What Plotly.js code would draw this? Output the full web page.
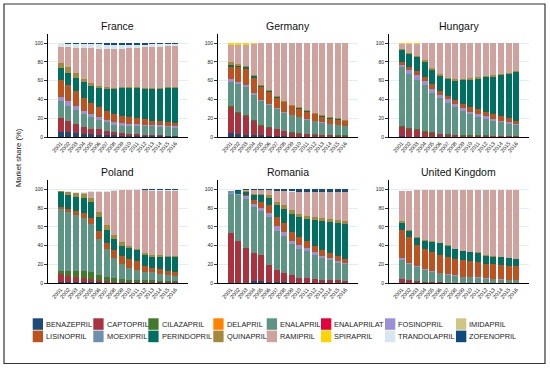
<!DOCTYPE html>
<html><head><meta charset="utf-8">
<script src="https://cdn.plot.ly/plotly-3.0.1.min.js"></script>
<style>html,body{margin:0;padding:0;background:#fff}#chart{width:550px;height:368px}</style>
</head><body><div id="chart"></div>
<script>
const years = ['2001','2002','2003','2004','2005','2006','2007','2008','2009','2010','2011','2012','2013','2014','2015','2016'];
const countries = ['France','Germany','Hungary','Poland','Romania','United Kingdom'];
const drugs = ['BENAZEPRIL','CAPTOPRIL','CILAZAPRIL','DELAPRIL','ENALAPRIL','ENALAPRILAT','FOSINOPRIL','IMIDAPRIL',
               'LISINOPRIL','MOEXIPRIL','PERINDOPRIL','QUINAPRIL','RAMIPRIL','SPIRAPRIL','TRANDOLAPRIL','ZOFENOPRIL'];
const drugColors = ['#1c4a76','#a8323e','#427a2c','#ff8200','#5e9484','#e4003a','#9a90d8','#d0c585',
                    '#bc5220','#6c90ad','#006e60','#a3893c','#cfa29e','#ffd400','#d6e7ef','#104a7c'];

// France (market share, %)
const frBenazepril   = [5,5,4,3,3,2.5,2,2,1.5,1.5,1.5,1,1,1,1,1];
const frCaptopril    = [15,12,10,8,6,5.5,4,3,3,2,1.5,1.5,1,1,0.5,0.5];
const frEnalapril    = [18,16,15,13,12,10,10,8,7.5,8.5,9,9.5,9.5,9,9,8.5];
const frFosinopril   = [5,5,4,4,3,3,2.5,2.5,2.5,2,1.5,1,1.5,1.5,1.5,1.5];
const frLisinopril   = [18,17,16,14,12,11,9.5,9.5,7.5,7,6.5,6,4.5,4.5,3.5,3.5];
const frPerindopril  = [12,13,14,16,18,20,23,26,30,31,32,32.5,34,34.5,36.5,37];
const frQuinapril    = [6,6,5,4,3,2,2,1.5,1,1,1,1,1,1,1,1];
const frRamipril     = [17,22,27,33,38,40,41,41.5,41,42,42,43,43.5,43.5,43.5,43.5];
const frTrandolapril = [4,3,4,4,4,4.5,4,4,4,3,3,2.5,2.5,2.5,2,2];
const frZofenopril   = [0,1,1,1,1,1.5,2,2,2,2,2,2,1.5,1.5,1.5,1.5];

// Germany
const deBenazepril   = [4,3,2.5,2,2,1.5,1,1,0.5,0.5,0.5,0.5,0.5,0.5,0.5,0.5];
const deCaptopril    = [28,23,19.5,15,10,8.5,7,5,4,3,2.5,2,1.5,1.5,1,1];
const deCilazapril   = [1,1,1,1,1,0.5,0.5,0.5,0.5,0.5,0.5,0.5,0.5,0.3,0.5,0.5];
const deEnalapril    = [26,29,30,27,25,23.5,21.5,19.5,18,17,15,13.5,12.5,11.2,10.5,9.5];
const deFosinopril   = [3,2,2,2,1,1,0.5,0.5,0.5,0.5,0.5,0.5,0.5,0.5,0.5,0.5];
const deLisinopril   = [13,16,17,16,14,13,11.5,10.5,9.5,8.5,8,7,6,5.5,5.5,4.5];
const dePerindopril  = [2,1.5,2,1.5,1,1,1,0.5,0.5,0.5,0.5,0.5,0.5,0.5,0.5,0.5];
const deQuinapril    = [3,2.5,2,1.5,1.5,1.5,1,1,1,1,1,1,1,1,1,1];
const deRamipril     = [18,20,22,32.5,44,49,55.5,61.5,65.5,68.5,71.5,74.5,77,79,80,82];
const deSpirapril    = [1.5,1.5,1.5,1.5,0.5,0.5,0.5,0,0,0,0,0,0,0,0,0];
const deTrandolapril = [0.5,0.5,0.5,0,0,0,0,0,0,0,0,0,0,0,0,0];

// Hungary
const huBenazepril   = [1,0.5,0.5,0.5,0.5,0.3,0.3,0.3,0.2,0.2,0.2,0.2,0.2,0.2,0.2,0.2];
const huCaptopril    = [9.5,8.5,6.5,4.5,3.5,2.7,2.2,1.7,1.3,1.3,1.3,1,0.8,0.8,0.8,0.8];
const huCilazapril   = [1.5,1,1,1,1,0.5,0.5,0.5,0.5,0.5,0.5,0.5,0.5,0.5,0.5,0.5];
const huEnalapril    = [62.5,57,53,49,42,37.5,33,29,25.5,22,19.5,17.8,15.5,14,12.5,11];
const huFosinopril   = [2.5,4,5,5,4.5,4,4,3.5,3,3,2.5,2.5,2,2,1.5,1];
const huLisinopril   = [3,3.5,4,4,4.5,4,4,4.5,5,5,5.5,4.5,5,4.5,4.5,4];
const huPerindopril  = [13,13.5,15,16,15,15.5,17.5,20.5,25,29,32.5,37,40,43.5,47,51.5];
const huQuinapril    = [0.5,1,1,1.5,2,2,1.5,1.5,1.5,1.5,1.5,1,1.5,1.5,1,1];
const huRamipril     = [5.5,10,13,18,26.5,33.5,37,38.5,38,37.5,36.5,35.5,34.5,33,32,30];
const huSpirapril    = [0.5,1,1,0.5,0.5,0,0,0,0,0,0,0,0,0,0,0];
const huTrandolapril = [0.5,0,0,0,0,0,0,0,0,0,0,0,0,0,0,0];

// Poland
const plBenazepril   = [1,1,1,1,1,1,0.5,0.5,0.5,0.3,0.3,0.3,0.3,0.3,0.3,0.3];
const plCaptopril    = [8.5,7,6,5,4,2,2,1,1,1,1,0.7,0.7,0.7,0.7,0.7];
const plCilazapril   = [3.5,5,6.5,7,7,6,4.5,4,3,2.7,2.2,2,2,1.5,1.5,1.5];
const plEnalapril    = [65.7,63,59.5,57,51,38,29,21.5,16,12.5,10.5,9.5,8.5,7.5,6.5,5.5];
const plLisinopril   = [2.8,3,4,4.5,7,8.5,7,8,8.5,9.5,10,5.5,4.5,5,4.5,4.5];
const plPerindopril  = [15.3,15,15,16,16,15.5,14,12.5,11,11.5,11,12,12,13,14.5,15];
const plQuinapril    = [1.4,3,4,4.5,5,5,5,3.5,3.5,2.5,2,2,2.5,2,1.5,1.5];
const plRamipril     = [0,0,0,1,6,21,35.5,47.5,55.5,59,62.5,67,68,68.5,69,69.5];
const plTrandolapril = [0.5,1,1.5,1.5,1,1,0.5,0.5,0.5,0.5,0.5,0.5,0.5,0.5,0.5,0.5];
const plZofenopril   = [0,0,0,0,0,0,0,0,0,0,0,0.5,1,1,1,1];

// Romania
const roBenazepril   = [0,0,0,2.5,2.5,1,1,1,0.5,0.5,0.5,0.5,0.5,0.5,0.5,0.5];
const roCaptopril    = [53,45,38,29.5,27.5,18.5,13,10,8,5.5,5,4,3,2.5,2.5,2];
const roEnalapril    = [42.5,48.5,52,49,47,51,42,39,33,31,28.5,25.5,23.5,21.5,19,17.5];
const roFosinopril   = [1,2,3,3.5,3.5,4.5,5,4.5,4,3.5,3.5,3,2.5,2,2,2];
const roLisinopril   = [0,0,1,4,5.5,8,9.5,10,9,8.5,7.5,6.5,6,6,5,4];
const roMoexipril    = [1.5,0,0,0,0,0,0,0,0,0,0,0,0,0,0,0];
const roPerindopril  = [0,2.5,3,5.5,7.5,8,13,14.5,19.5,21.5,23.5,27.5,30.5,32.5,35.5,37.5];
const roQuinapril    = [0,0,1,1.5,2,3,3.5,4,3.5,3.5,3.5,3.5,3,3,3,3];
const roRamipril     = [0,0,1,3.5,3.5,5,11.5,15.5,20,23,25,26.5,28,29,29.5,30.5];
const roTrandolapril = [0,0,0,0,0,0,0,0,0.5,0.5,0.5,0.5,0.5,0.5,0.5,0.5];
const roZofenopril   = [0.5,1,1,1,1,1,1.5,1.5,2,2.5,2.5,2.5,2.5,2.5,2.5,2.5];

// United Kingdom
const ukCaptopril    = [5,3.5,2.5,1.5,1,1,0.5,0.5,0.3,0.3,0.3,0.2,0.2,0.2,0.2,0.2];
const ukEnalapril    = [20,17,14.5,12.5,11.5,9.5,8.5,7.5,6.7,6.2,5.7,4.8,4.3,3.8,3.3,3.3];
const ukFosinopril   = [1.5,1.5,1,1,0.5,0.5,0.5,0.3,0.2,0.2,0.2,0.2,0.2,0.2,0.2,0.2];
const ukLisinopril   = [30.5,27,22.5,21.5,20,19.5,18.5,17.7,17.3,17,16.8,15.8,15.8,15.3,15,14.5];
const ukPerindopril  = [7.5,6.5,7.5,8.5,11,12,11.5,10,9.5,9.5,9.5,8.5,8,8,8,7.5];
const ukQuinapril    = [1.5,1.5,1.5,1.5,1,0.5,1,0.5,0.5,0.5,0.5,0.5,0.5,0.5,0.5,0.5];
const ukRamipril     = [32,41.5,49.5,52.5,54.5,56.5,59,63,65,66,66.5,69.5,70.5,71.5,72.5,73.5];

const table = {
  'France': {BENAZEPRIL:frBenazepril, CAPTOPRIL:frCaptopril, ENALAPRIL:frEnalapril, FOSINOPRIL:frFosinopril,
             LISINOPRIL:frLisinopril, PERINDOPRIL:frPerindopril, QUINAPRIL:frQuinapril, RAMIPRIL:frRamipril,
             TRANDOLAPRIL:frTrandolapril, ZOFENOPRIL:frZofenopril},
  'Germany': {BENAZEPRIL:deBenazepril, CAPTOPRIL:deCaptopril, CILAZAPRIL:deCilazapril, ENALAPRIL:deEnalapril,
              FOSINOPRIL:deFosinopril, LISINOPRIL:deLisinopril, PERINDOPRIL:dePerindopril, QUINAPRIL:deQuinapril,
              RAMIPRIL:deRamipril, SPIRAPRIL:deSpirapril, TRANDOLAPRIL:deTrandolapril},
  'Hungary': {BENAZEPRIL:huBenazepril, CAPTOPRIL:huCaptopril, CILAZAPRIL:huCilazapril, ENALAPRIL:huEnalapril,
              FOSINOPRIL:huFosinopril, LISINOPRIL:huLisinopril, PERINDOPRIL:huPerindopril, QUINAPRIL:huQuinapril,
              RAMIPRIL:huRamipril, SPIRAPRIL:huSpirapril, TRANDOLAPRIL:huTrandolapril},
  'Poland': {BENAZEPRIL:plBenazepril, CAPTOPRIL:plCaptopril, CILAZAPRIL:plCilazapril, ENALAPRIL:plEnalapril,
             LISINOPRIL:plLisinopril, PERINDOPRIL:plPerindopril, QUINAPRIL:plQuinapril, RAMIPRIL:plRamipril,
             TRANDOLAPRIL:plTrandolapril, ZOFENOPRIL:plZofenopril},
  'Romania': {BENAZEPRIL:roBenazepril, CAPTOPRIL:roCaptopril, ENALAPRIL:roEnalapril, FOSINOPRIL:roFosinopril,
              LISINOPRIL:roLisinopril, MOEXIPRIL:roMoexipril, PERINDOPRIL:roPerindopril, QUINAPRIL:roQuinapril,
              RAMIPRIL:roRamipril, TRANDOLAPRIL:roTrandolapril, ZOFENOPRIL:roZofenopril},
  'United Kingdom': {CAPTOPRIL:ukCaptopril, ENALAPRIL:ukEnalapril, FOSINOPRIL:ukFosinopril, LISINOPRIL:ukLisinopril,
                     PERINDOPRIL:ukPerindopril, QUINAPRIL:ukQuinapril, RAMIPRIL:ukRamipril}
};

const W = 550, H = 368;
const FONT = 'Liberation Sans, Arial, sans-serif';
const px = v => v / W, py = v => 1 - v / H;
// panel geometry in pixels
const colLeft = [48, 218, 389];
const axisLen = 139.6;
const rows = [{top: 33.6, bottom: 137, title: 26}, {top: 179.9, bottom: 283.3, title: 171.7}];

const traces = [];
const layout = {
  width: W, height: H, autosize: false,
  margin: {l: 0, r: 0, t: 0, b: 0, pad: 0},
  paper_bgcolor: '#fff', plot_bgcolor: '#fff',
  barmode: 'stack', bargap: 0.22, showlegend: false,
  font: {family: FONT, color: '#222'},
  annotations: [], shapes: []
};

countries.forEach((c, ci) => {
  const r = Math.floor(ci / 3), k = ci % 3;
  const n = ci + 1;
  const xa = 'x' + (n === 1 ? '' : n), ya = 'y' + (n === 1 ? '' : n);
  drugs.forEach((d, di) => {
    const vals = table[c][d];
    if (!vals) return;
    traces.push({
      type: 'bar', name: d, x: years, y: vals, xaxis: xa, yaxis: ya,
      marker: {color: drugColors[di], line: {width: 0}},
      hovertemplate: c + ' ' + d + ' %{x}: %{y}%<extra></extra>'
    });
  });
  const x0 = colLeft[k], x1 = colLeft[k] + axisLen;
  layout['xaxis' + (n === 1 ? '' : n)] = {
    domain: [px(x0), px(x1)], anchor: ya, type: 'category',
    range: [-1.65, 16.6], showline: true, linecolor: '#000', linewidth: 1,
    ticks: '', tickangle: -50, tickfont: {size: 5.5, color: '#222'},
    showgrid: false, zeroline: false, automargin: false, fixedrange: true
  };
  layout['yaxis' + (n === 1 ? '' : n)] = {
    domain: [py(rows[r].bottom), py(rows[r].top)], anchor: xa,
    range: [0, 110], tickvals: [0, 20, 40, 60, 80, 100],
    ticks: 'outside', ticklen: 3, tickwidth: 0.8, tickcolor: '#000',
    showline: true, linecolor: '#000', linewidth: 1,
    showgrid: true, gridcolor: '#e1eef2', gridwidth: 1,
    tickfont: {size: 5, color: '#222'}, zeroline: false, automargin: false, fixedrange: true
  };
  layout.annotations.push({
    text: c, xref: 'paper', yref: 'paper', x: px((x0 + x1) / 2), y: py(rows[r].title),
    xanchor: 'center', yanchor: 'middle', showarrow: false,
    font: {size: 10.5, color: '#111', family: FONT}
  });
});

// y axis title
layout.annotations.push({
  text: 'Market share (%)', xref: 'paper', yref: 'paper', x: px(18), y: py(158),
  xanchor: 'center', yanchor: 'middle', textangle: -90, showarrow: false,
  font: {size: 7.6, color: '#222', family: FONT}
});

// legend (two rows of eight entries)
const legendColX = [32.7, 93.3, 148.3, 213.3, 266.7, 321, 385, 456];
const legendRows = [{top: 318.3, bottom: 329.8, mid: 324.2}, {top: 330.6, bottom: 342.2, mid: 336.4}];
drugs.forEach((d, i) => {
  const col = i % 8, row = Math.floor(i / 8);
  const lx = legendColX[col], lr = legendRows[row];
  layout.shapes.push({
    type: 'rect', xref: 'paper', yref: 'paper', x0: px(lx), x1: px(lx + 10.3),
    y0: py(lr.bottom), y1: py(lr.top), fillcolor: drugColors[i], line: {width: 0}, layer: 'above'
  });
  layout.annotations.push({
    text: d, xref: 'paper', yref: 'paper', x: px(lx + 11.3), y: py(lr.mid),
    xanchor: 'left', yanchor: 'middle', showarrow: false,
    font: {size: 7.4, color: '#222', family: FONT}
  });
});

// outer frame
layout.shapes.push({
  type: 'rect', xref: 'paper', yref: 'paper', x0: px(4), x1: px(545), y0: py(363.5), y1: py(4),
  line: {color: '#333', width: 1.2}, fillcolor: 'rgba(0,0,0,0)', layer: 'above'
});

Plotly.newPlot('chart', traces, layout, {displayModeBar: false, staticPlot: true});
</script>
</body></html>
